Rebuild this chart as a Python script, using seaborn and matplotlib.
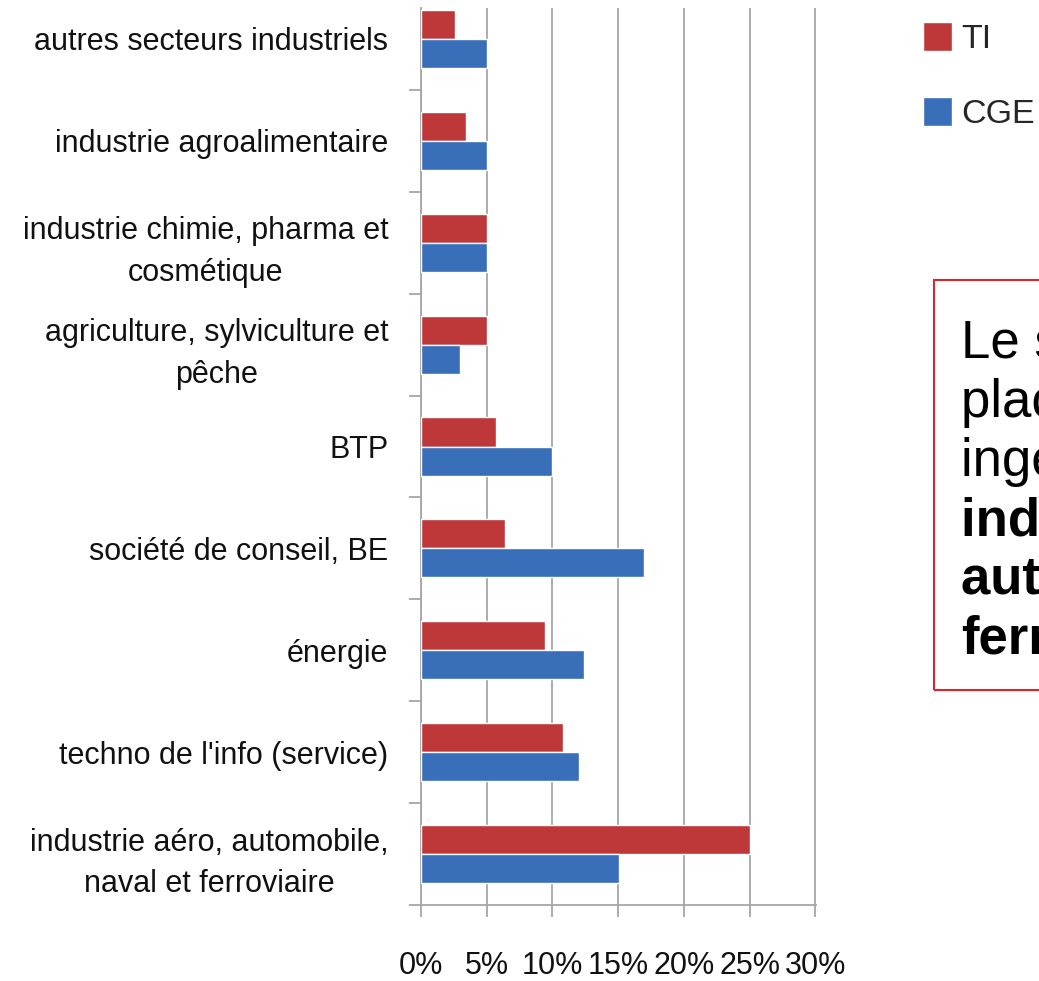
import matplotlib
matplotlib.use("Agg")
import matplotlib.pyplot as plt
import seaborn as sns
import pandas as pd
from matplotlib import font_manager
from matplotlib.patches import Rectangle
from matplotlib.ticker import FixedLocator

# ---- data ----
secteurs = [
    "autres secteurs industriels",
    "industrie agroalimentaire",
    "industrie chimie, pharma et\ncosmétique",
    "agriculture, sylviculture et\npêche",
    "BTP",
    "société de conseil, BE",
    "énergie",
    "techno de l'info (service)",
    "industrie aéro, automobile,\nnaval et ferroviaire",
]
ti = [2.6, 3.4, 5.0, 5.0, 5.7, 6.4, 9.4, 10.8, 25.0]
cge = [5.0, 5.0, 5.0, 3.0, 10.0, 17.0, 12.4, 12.0, 15.1]
series = ["TI", "CGE"]
xticks = [0, 5, 10, 15, 20, 25, 30]
xtick_labels = ["0%", "5%", "10%", "15%", "20%", "25%", "30%"]
box_lines = ["Le secteur qui", "place le plus d'", "ingénieurs est l'",
             "industrie aéro,", "automobile, naval", "ferroviaire"]
box_bold = [False, False, False, True, True, True]

RED = "#BE383A"
BLUE = "#396EB8"
GRID = "#A6A6A6"

sns.set_theme(style="white")
names = {f.name for f in font_manager.fontManager.ttflist}
if "Liberation Sans Narrow" in names:
    lab_font, lab_size, leg_size = "Liberation Sans Narrow", 26.5, 29.5
else:
    lab_font, lab_size, leg_size = "Liberation Sans", 22, 24.5
plt.rcParams["font.family"] = [lab_font, "DejaVu Sans"]

df = pd.DataFrame({
    "secteur": secteurs * 2,
    "type": ["TI"] * len(secteurs) + ["CGE"] * len(secteurs),
    "valeur": ti + cge,
})

W, H = 1039, 981
fig = plt.figure(figsize=(W / 100, H / 100), dpi=100)
ax = fig.add_axes([421 / W, 1 - 905 / H, 395 / W, (905 - 8) / H])

sns.barplot(data=df, x="valeur", y="secteur", hue="type", order=secteurs,
            hue_order=series, palette=[RED, BLUE], width=0.57, saturation=1,
            orient="h", ax=ax, zorder=3)

ax.set_ylim(8.5, -0.304)
ax.set_xlim(0, 30.05)
ax.set_xlabel("")
ax.set_ylabel("")
ax.set_axisbelow(True)
ax.xaxis.grid(True, color=GRID, lw=1.3)
ax.yaxis.grid(False)
for s in ["top", "right"]:
    ax.spines[s].set_visible(False)
for s in ["left", "bottom"]:
    ax.spines[s].set_color(GRID)
    ax.spines[s].set_linewidth(1.3)

ax.set_xticks(xticks)
ax.set_xticklabels(xtick_labels)
ax.tick_params(axis="x", length=8.6, width=1.3, color=GRID, pad=24.5,
               labelsize=lab_size, labelcolor="#111111", bottom=True)
ax.tick_params(axis="y", which="major", length=0, pad=23.5,
               labelsize=lab_size, labelcolor="#111111")
ax.yaxis.set_minor_locator(FixedLocator([i + 0.5 for i in range(len(secteurs))]))
ax.tick_params(axis="y", which="minor", length=8.6, width=1.3, color=GRID, left=True)
for t in ax.get_yticklabels():
    t.set_multialignment("center")
    t.set_linespacing(1.5)

handles, labels = ax.get_legend_handles_labels()
if ax.get_legend() is not None:
    ax.get_legend().remove()
fig.legend(handles, labels, loc="upper left",
           bbox_to_anchor=(923 / W, 1 - 22 / H), bbox_transform=fig.transFigure,
           frameon=False, fontsize=leg_size, handlelength=0.86, handleheight=0.94,
           handletextpad=0.26, labelspacing=1.22, borderpad=0, borderaxespad=0)

fig.add_artist(Rectangle((934 / W, 1 - 690 / H), 0.2, (690 - 280) / H,
                         transform=fig.transFigure, fill=False,
                         edgecolor="#D8262E", lw=1.5))
for i, (line, b) in enumerate(zip(box_lines, box_bold)):
    fig.text(961 / W, 1 - (358 + 59 * i) / H, line, fontsize=38,
             family="Liberation Sans", fontweight="bold" if b else "normal",
             va="baseline", ha="left", color="black")

fig.savefig("out.png", dpi=100)
